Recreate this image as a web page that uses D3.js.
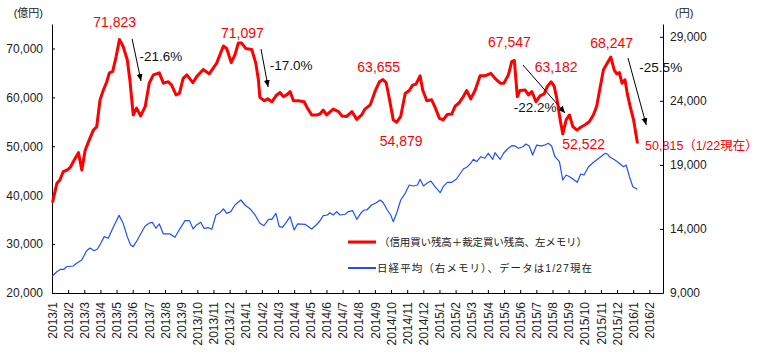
<!DOCTYPE html>
<html><head><meta charset="utf-8">
<script src="https://cdn.jsdelivr.net/npm/d3@7"></script>
<style>
body{margin:0;background:#fff}
svg{display:block}
text{font-family:"Liberation Sans",Arial,"Noto Sans CJK JP",sans-serif}
</style>
</head><body>
<svg id="c" width="760" height="360"></svg>
<script>
// ---- data ----
const monthLabels = ["2013/1","2013/2","2013/3","2013/4","2013/5","2013/6","2013/7","2013/8","2013/9","2013/10","2013/11","2013/12",
  "2014/1","2014/2","2014/3","2014/4","2014/5","2014/6","2014/7","2014/8","2014/9","2014/10","2014/11","2014/12",
  "2015/1","2015/2","2015/3","2015/4","2015/5","2015/6","2015/7","2015/8","2015/9","2015/10","2015/11","2015/12",
  "2016/1","2016/2"];
const leftTicks = [20000,30000,40000,50000,60000,70000];
const rightTicks = [9000,14000,19000,24000,29000];
const leftUnit = "(億円)";
const rightUnit = "(円)";

// [week index from 2013/1, 億円]
const marginBuy = [[0.2,38700],[1.3,42400],[2.1,43100],[3.0,44800],[4.1,45150],[5.0,45800],[6.2,47500],[7.1,48700],[8.0,45150],[8.9,49200],
[10.0,51300],[11.1,53300],[12.0,54000],[12.9,59500],[13.8,61500],[14.7,63200],[15.4,65000],[16.3,65300],[17.2,68300],[18.1,71823],
[19.1,70400],[20.2,67700],[20.9,63600],[21.8,56400],[22.7,57800],[23.8,56200],[25.0,58100],[26.1,62900],[27.2,64600],[28.8,65000],
[29.9,62900],[31.2,63200],[32.1,62500],[33.3,60500],[34.2,60800],[35.2,63900],[36.2,64600],[37.8,63000],[38.8,64200],[40.6,65700],
[42.2,64800],[44.2,67000],[46.0,70500],[46.9,70000],[48.1,67100],[49.1,68700],[50.0,71097],[50.9,71100],[52.0,70000],[53.6,69800],
[54.7,67000],[55.4,63600],[55.8,60000],[57.0,59300],[57.9,59700],[59.0,59100],[60.3,60500],[61.2,61000],[62.1,60150],[63.0,60500],
[63.9,61200],[64.8,59300],[66.1,59300],[67.7,59100],[68.4,58000],[69.7,56400],[71.1,56400],[71.9,56600],[72.8,57400],[73.7,56400],
[75.5,57600],[76.9,57100],[77.8,56200],[79.1,56100],[80.5,57100],[81.8,55500],[83.1,56400],[84.0,57600],[85.4,58450],[86.7,61200],
[87.9,63200],[88.8,63655],[89.7,63000],[90.6,59500],[91.6,55400],[92.5,54879],[93.6,56100],[94.8,60800],[95.9,61400],[96.8,62500],
[97.7,62700],[98.8,64400],[99.5,61500],[100.6,59300],[101.9,59500],[102.8,58000],[104.0,55700],[105.0,55400],[106.1,56500],[107.3,56600],
[108.2,58200],[109.3,58900],[110.4,60150],[111.3,61400],[112.4,59700],[113.6,61500],[114.9,64400],[116.2,64400],[117.8,64900],[118.9,63900],
[120.3,62900],[121.3,62900],[122.5,64600],[123.4,67300],[124.1,67547],[124.9,60150],[125.6,61400],[127.0,61500],[127.9,60500],[128.8,61200],
[129.9,59100],[131.0,60300],[132.1,60700],[133.0,62300],[134.0,63182],[134.8,62250],[135.5,59800],[136.4,55400],[137.1,52522],[138.0,55400],
[138.9,56400],[139.8,54000],[140.9,53300],[141.9,53900],[143.1,54400],[144.2,55000],[145.3,56400],[146.2,58200],[147.1,61900],[148.0,65600],
[148.9,66800],[150.0,68247],[150.9,65600],[151.6,64800],[152.3,65050],[153.0,62900],[153.8,63600],[154.4,60800],[155.2,58100],[156.1,55400],
[157.1,50815]];

// [week index, 円]
const nikkei = [[0.1,10330],[1.3,10660],[2.3,10850],[3.2,10850],[3.9,11050],[5.7,11110],[6.6,11320],[8.0,11580],[9.3,12300],[10.2,12510],
[11.3,12300],[12.2,12440],[13.1,12880],[14.0,13400],[15.1,13270],[16.5,14180],[18.0,15060],[19.1,14440],[20.2,13400],[21.1,12750],
[21.8,12620],[22.9,13140],[23.9,13660],[25.0,14230],[26.3,14490],[27.0,14490],[27.9,14050],[28.8,14390],[29.9,13610],[31.7,13610],
[33.0,13350],[34.4,14050],[35.7,14650],[36.9,14650],[37.9,14000],[38.8,14310],[39.9,14520],[40.8,14050],[42.0,14100],[42.9,13970],
[44.0,15090],[45.1,15270],[46.0,15560],[46.9,15220],[48.0,15350],[49.1,15870],[50.7,16260],[51.8,15870],[53.2,15560],[54.5,15090],
[55.8,14440],[56.9,14250],[58.1,14750],[59.0,14750],[60.1,15220],[61.0,14180],[61.9,14130],[63.0,14570],[63.9,14960],[65.0,13920],
[65.9,14390],[67.9,14360],[69.7,14000],[70.9,14310],[71.9,14620],[72.8,15040],[73.9,15090],[74.6,15270],[75.5,15090],[76.4,15350],
[77.3,15090],[78.7,15150],[79.5,15350],[80.7,15430],[81.8,14750],[83.0,15270],[83.8,15480],[84.5,15480],[85.8,15870],[87.0,16050],
[88.1,16260],[88.9,16050],[90.0,15480],[90.9,15090],[91.6,14570],[92.5,15220],[93.6,16260],[94.8,16780],[95.9,17430],[97.0,17350],
[98.1,17430],[98.8,17880],[99.7,17350],[100.6,17560],[101.7,17740],[102.8,17300],[104.2,16830],[105.0,17300],[106.1,17640],[107.3,17640],
[108.5,17880],[109.5,18290],[110.4,18680],[111.5,18860],[112.4,19130],[113.1,19440],[114.0,19250],[115.1,19640],[116.2,19520],[117.1,19910],
[118.3,19440],[118.9,19950],[120.3,19440],[121.3,19950],[122.5,20300],[123.4,20500],[124.3,20480],[125.2,20300],[126.4,20420],[127.2,20630],
[128.1,20480],[129.0,19770],[130.1,20550],[131.2,20480],[132.3,20550],[133.2,20690],[134.1,20480],[135.0,19640],[136.2,19250],[137.1,17820],
[138.0,18210],[138.9,18080],[139.9,17880],[141.0,17640],[141.9,18290],[142.8,18210],[144.0,18860],[145.2,19170],[146.4,19440],[147.3,19640],
[148.5,19910],[149.1,19850],[149.8,19590],[151.1,19380],[152.5,19070],[153.4,18860],[154.1,18990],[155.0,18080],[155.9,17300],[157.1,17100]];

// value labels: [week, value(left axis units), text]
const peakLabels = [[16.8,74390,"71,823"],[51.1,72140,"71,097"],[87.7,65190,"63,655"],[93.7,50060,"54,879"],
  [122.8,70300,"67,547"],[135.3,65190,"63,182"],[142.7,49440,"52,522"],[150.2,70090,"68,247"]];
const lastLabel = [159.2,49240,"50,815（1/22現在）"];
const changeLabels = [[29.2,67440,"-21.6%"],[64.2,65600,"-17.0%"],[129.7,57010,"-22.2%"],[163.4,65190,"-25.5%"]];
// arrows: [week0, value0, week1, value1]
const changeArrows = [[21.5,71930,23.9,63350],[56.1,69890,58.0,62120],[126.4,66620,137.7,56800],[154.6,68050,159.5,54350]];
const legendItems = ["（信用買い残高＋裁定買い残高、左メモリ）","日経平均（右メモリ）、データは1/27現在"];

// ---- chart ----
const svg = d3.select("#c");
const x = d3.scaleLinear().domain([0,164]).range([52,663]);
const yL = d3.scaleLinear().domain([20000,75000]).range([293,24]);
const yR = d3.scaleLinear().domain([9000,30000]).range([293,24]);
const weeksPerMonth = 52/12;

function styleAxis(g){
  g.attr("font-family",null).attr("font-size",null);
  g.selectAll("path,line").attr("stroke","#000");
  g.selectAll("text").attr("fill","#222").attr("font-size",12);
}

svg.append("g").attr("transform","translate(0,293)")
  .call(d3.axisBottom(x).tickValues(monthLabels.map((d,i)=>i*weeksPerMonth))
    .tickFormat((d,i)=>monthLabels[i]).tickSizeInner(-3).tickSizeOuter(0))
  .call(styleAxis)
  .call(g=>g.selectAll("text").attr("transform","rotate(-90)").attr("text-anchor","end")
    .attr("x",-9).attr("y",0).attr("dy","0.35em"));

svg.append("g").attr("transform","translate(52,0)")
  .call(d3.axisLeft(yL).tickValues(leftTicks).tickFormat(d3.format(",")).tickSizeInner(-3).tickSizeOuter(0).tickPadding(9))
  .call(styleAxis);

svg.append("g").attr("transform","translate(663,0)")
  .call(d3.axisRight(yR).tickValues(rightTicks).tickFormat(d3.format(",")).tickSizeInner(-3).tickSizeOuter(0).tickPadding(7))
  .call(styleAxis);

svg.append("text").attr("x",43).attr("y",17).attr("text-anchor","end").attr("font-size",11).attr("fill","#222").text(leftUnit);
svg.append("text").attr("x",675).attr("y",17).attr("font-size",11).attr("fill","#222").text(rightUnit);

// lines
svg.append("path").datum(nikkei)
  .attr("fill","none").attr("stroke","#1f4fff").attr("stroke-width",1.2).attr("stroke-linejoin","round")
  .attr("d",d3.line().x(d=>x(d[0])).y(d=>yR(d[1])));
svg.append("path").datum(marginBuy)
  .attr("fill","none").attr("stroke","#ff0000").attr("stroke-width",3).attr("stroke-linejoin","round").attr("stroke-linecap","round")
  .attr("d",d3.line().x(d=>x(d[0])).y(d=>yL(d[1])));

// arrow marker
svg.append("defs").append("marker").attr("id","ah").attr("markerUnits","userSpaceOnUse")
  .attr("markerWidth",8).attr("markerHeight",8).attr("refX",7).attr("refY",3).attr("orient","auto")
  .append("path").attr("d","M0,0L7,3L0,6Z").attr("fill","#000");

svg.selectAll(".arrow").data(changeArrows).join("line").attr("class","arrow")
  .attr("x1",d=>x(d[0])).attr("y1",d=>yL(d[1])).attr("x2",d=>x(d[2])).attr("y2",d=>yL(d[3]))
  .attr("stroke","#000").attr("stroke-width",1).attr("marker-end","url(#ah)");

svg.selectAll(".peak").data(peakLabels).join("text").attr("class","peak")
  .attr("x",d=>x(d[0])).attr("y",d=>yL(d[1])).attr("text-anchor","middle")
  .attr("font-size",14).attr("fill","#ff0000").text(d=>d[2]);

svg.append("text").attr("x",x(lastLabel[0])).attr("y",yL(lastLabel[1]))
  .attr("font-size",12.5).attr("fill","#ff0000").text(lastLabel[2]);

svg.selectAll(".chg").data(changeLabels).join("text").attr("class","chg")
  .attr("x",d=>x(d[0])).attr("y",d=>yL(d[1])).attr("text-anchor","middle")
  .attr("font-size",13.5).attr("fill","#111").text(d=>d[2]);

// legend
const legendColors = ["#ff0000","#1f4fff"];
const legendWidths = [3,2];
const lg = svg.append("g");
legendItems.forEach((t,i)=>{
  const yy = 242 + i*26;
  lg.append("line").attr("x1",348).attr("x2",376).attr("y1",yy).attr("y2",yy)
    .attr("stroke",legendColors[i]).attr("stroke-width",legendWidths[i]);
  lg.append("text").attr("x",i===0?379:377).attr("y",yy+4).attr("font-size",10.5).attr("fill","#222")
    .attr("textLength",i===0?208:215).attr("lengthAdjust","spacing").text(t);
});
</script>
</body></html>
